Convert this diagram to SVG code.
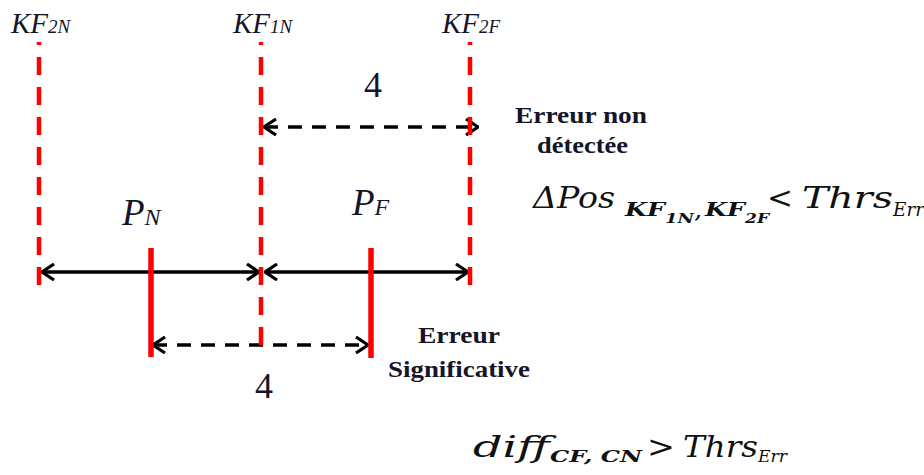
<svg xmlns="http://www.w3.org/2000/svg" width="924" height="475" viewBox="0 0 924 475">
<defs>
<style>
.lbl{font-family:"Liberation Serif",serif;font-style:italic;fill:#15152a}
.bold{font-family:"Liberation Serif",serif;font-weight:bold;fill:#15152a}
.num{font-family:"Liberation Serif",serif;fill:#15152a}
.math{font-family:"DejaVu Serif",serif;font-style:italic;fill:#111}
.mathb{font-family:"DejaVu Serif",serif;font-style:italic;font-weight:bold;fill:#111}
.op{font-family:"DejaVu Serif",serif;fill:#111}
.rdash{stroke:#ff0000;stroke-width:4.5;stroke-dasharray:18 12;stroke-dashoffset:15;fill:none}
.rsolid{stroke:#ff0000;stroke-width:5.5;fill:none}
.arr{stroke:#000;stroke-width:3.5;fill:none;marker-start:url(#ah);marker-end:url(#ah)}
.dash{stroke-dasharray:14 10}
</style>
<marker id="ah" viewBox="0 0 14 18" refX="13" refY="9" markerWidth="14" markerHeight="18" markerUnits="userSpaceOnUse" orient="auto-start-reverse">
<path d="M1,1 L13,9 L1,17" fill="none" stroke="#000" stroke-width="3.2"/>
</marker>
</defs>
<rect width="924" height="475" fill="#fff"/>

<g id="connectors">
<line class="arr" x1="42" y1="272" x2="259" y2="272"/>
<line class="arr" x1="265" y1="272" x2="468" y2="272"/>
<line class="arr dash" x1="264" y1="127" x2="478" y2="127"/>
<line class="arr dash" x1="153" y1="345" x2="368" y2="345"/>
</g>

<g id="KF2N">
<line class="rdash" x1="39" y1="42" x2="39" y2="286"/>
<text class="lbl" x="11" y="33" font-size="29">KF<tspan font-size="19">2N</tspan></text>
</g>
<g id="KF1N">
<line class="rdash" x1="261" y1="42" x2="261" y2="345"/>
<text class="lbl" x="233" y="33" font-size="29">KF<tspan font-size="19">1N</tspan></text>
</g>
<g id="KF2F">
<line class="rdash" x1="470" y1="42" x2="470" y2="286"/>
<text class="lbl" x="442" y="33" font-size="29">KF<tspan font-size="19">2F</tspan></text>
</g>

<g id="PN">
<line class="rsolid" x1="151" y1="248" x2="151" y2="357"/>
<text class="lbl" x="122" y="225" font-size="37">P<tspan font-size="24">N</tspan></text>
</g>
<g id="PF">
<line class="rsolid" x1="371" y1="248" x2="371" y2="358"/>
<text class="lbl" x="352" y="215" font-size="37">P<tspan font-size="24">F</tspan></text>
</g>

<g id="label-top">
<text class="num" x="373" y="97" font-size="36" text-anchor="middle">4</text>
<text class="bold" x="515" y="123" font-size="23" textLength="132" lengthAdjust="spacingAndGlyphs">Erreur non</text>
<text class="bold" x="537" y="153" font-size="23" textLength="91" lengthAdjust="spacingAndGlyphs">détectée</text>
</g>

<g id="label-bottom">
<text class="num" x="264" y="398" font-size="36" text-anchor="middle">4</text>
<text class="bold" x="418" y="343" font-size="23" textLength="82" lengthAdjust="spacingAndGlyphs">Erreur</text>
<text class="bold" x="388" y="377" font-size="23" textLength="142" lengthAdjust="spacingAndGlyphs">Significative</text>
</g>

<g id="formula-top">
<text class="math" x="533" y="208" font-size="30" textLength="82" lengthAdjust="spacingAndGlyphs">ΔPos</text>
<text class="mathb" x="625" y="216" font-size="18" textLength="40" lengthAdjust="spacingAndGlyphs">KF</text>
<text class="mathb" x="665" y="223" font-size="13" textLength="29" lengthAdjust="spacingAndGlyphs">1N</text>
<text class="mathb" x="695" y="218" font-size="18">,</text>
<text class="mathb" x="705" y="216" font-size="18" textLength="40" lengthAdjust="spacingAndGlyphs">KF</text>
<text class="mathb" x="745" y="223" font-size="13" textLength="24" lengthAdjust="spacingAndGlyphs">2F</text>
<text class="op" x="767" y="208" font-size="30" textLength="26" lengthAdjust="spacingAndGlyphs">&lt;</text>
<text class="math" x="802" y="208" font-size="30" textLength="91" lengthAdjust="spacingAndGlyphs">Thrs</text>
<text class="math" x="893" y="216" font-size="18" textLength="31" lengthAdjust="spacingAndGlyphs">Err</text>
</g>

<g id="formula-bottom">
<text class="math" x="473" y="457" font-size="29" textLength="77" lengthAdjust="spacingAndGlyphs">diff</text>
<text class="mathb" x="550" y="462" font-size="16" textLength="92" lengthAdjust="spacingAndGlyphs">CF, CN</text>
<text class="op" x="647" y="457" font-size="29" textLength="28" lengthAdjust="spacingAndGlyphs">&gt;</text>
<text class="math" x="683" y="457" font-size="29" textLength="75" lengthAdjust="spacingAndGlyphs">Thrs</text>
<text class="math" x="758" y="462" font-size="17" textLength="29" lengthAdjust="spacingAndGlyphs">Err</text>
</g>
</svg>
